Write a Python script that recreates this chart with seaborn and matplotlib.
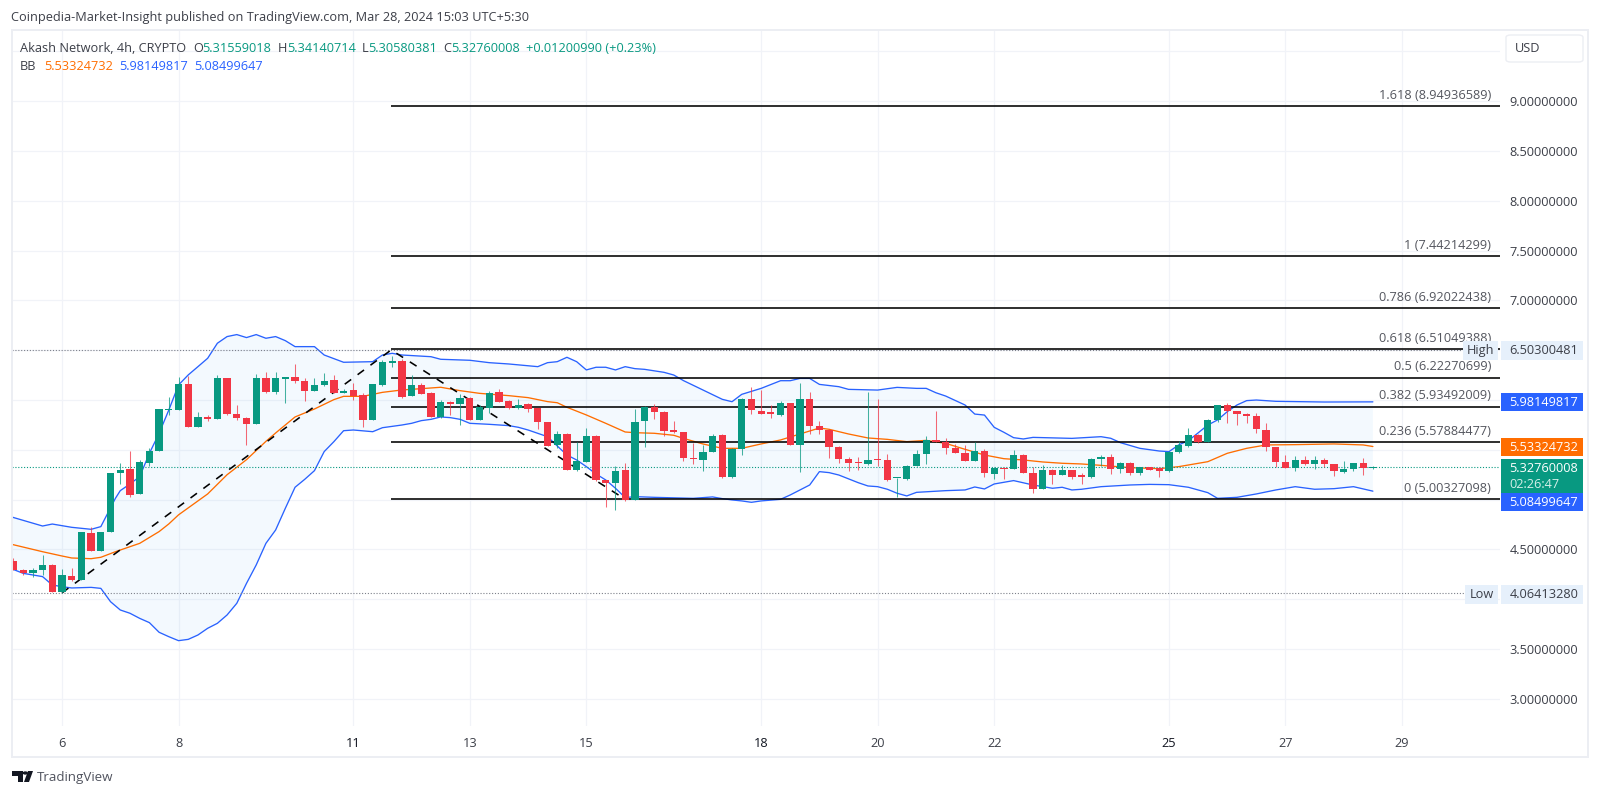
import numpy as np
import pandas as pd
import seaborn as sns
from matplotlib import pyplot as plt
from matplotlib.patches import Rectangle, FancyBboxPatch, Polygon

# Candles, one per 4h bar, index 0 is the bar on the "6" tick
opens = [4.387, 4.297, 4.260, 4.294, 4.344, 4.073, 4.233, 4.193, 4.669, 4.485, 4.672, 5.268, 5.308, 5.054, 5.371, 5.485,
         5.900, 5.903, 6.165, 5.726, 5.830, 5.806, 6.218, 5.860, 5.820, 5.763, 6.218, 6.081, 6.215, 6.228, 6.191, 6.091,
         6.155, 6.198, 6.074, 6.101, 6.047, 5.800, 6.151, 6.372, 6.396, 6.037, 6.148, 6.067, 5.826, 5.980, 5.960, 6.024,
         5.800, 5.923, 6.084, 5.990, 5.923, 5.957, 5.917, 5.776, 5.548, 5.659, 5.298, 5.381, 5.642, 5.194, 5.170, 5.294,
         5.000, 5.790, 5.933, 5.880, 5.699, 5.676, 5.415, 5.398, 5.482, 5.649, 5.224, 5.509, 6.014, 5.887, 5.867, 5.850,
         5.967, 5.552, 6.014, 5.739, 5.703, 5.525, 5.405, 5.368, 5.354, 5.398, 5.394, 5.217, 5.204, 5.338, 5.455, 5.599,
         5.582, 5.518, 5.472, 5.391, 5.492, 5.261, 5.321, 5.304, 5.445, 5.268, 5.110, 5.294, 5.247, 5.298, 5.234, 5.224,
         5.408, 5.428, 5.304, 5.365, 5.264, 5.324, 5.318, 5.284, 5.478, 5.539, 5.649, 5.579, 5.796, 5.950, 5.890, 5.857,
         5.836, 5.703, 5.525, 5.375, 5.321, 5.398, 5.358, 5.398, 5.355, 5.277, 5.304, 5.371, 5.316]
highs = [4.411, 4.304, 4.310, 4.441, 4.351, 4.304, 4.310, 4.672, 4.722, 4.679, 5.271, 5.365, 5.488, 5.398, 5.515, 5.910,
         6.028, 6.235, 6.242, 5.884, 5.850, 6.252, 6.218, 5.954, 5.830, 6.262, 6.282, 6.282, 6.228, 6.362, 6.218, 6.218,
         6.275, 6.248, 6.111, 6.168, 6.067, 6.158, 6.402, 6.442, 6.409, 6.251, 6.168, 6.081, 6.000, 5.990, 6.057, 6.030,
         5.950, 6.094, 6.108, 6.000, 6.007, 5.967, 5.923, 5.780, 5.689, 5.666, 5.582, 5.722, 5.652, 5.197, 5.341, 5.365,
         5.910, 5.940, 5.960, 5.885, 5.790, 5.680, 5.572, 5.548, 5.660, 5.660, 5.520, 6.020, 6.127, 6.100, 5.950, 5.987,
         5.970, 6.168, 6.077, 5.793, 5.710, 5.539, 5.431, 5.431, 6.083, 6.009, 5.455, 5.221, 5.350, 5.498, 5.639, 5.890,
         5.616, 5.555, 5.545, 5.582, 5.505, 5.325, 5.331, 5.498, 5.455, 5.325, 5.348, 5.304, 5.345, 5.300, 5.264, 5.420,
         5.448, 5.458, 5.381, 5.375, 5.330, 5.331, 5.331, 5.488, 5.592, 5.716, 5.659, 5.805, 5.955, 5.967, 5.893, 5.873,
         5.873, 5.773, 5.530, 5.448, 5.438, 5.438, 5.438, 5.415, 5.360, 5.391, 5.370, 5.415, 5.341]
lows = [4.294, 4.244, 4.227, 4.244, 4.073, 4.060, 4.186, 4.193, 4.485, 4.485, 4.672, 5.157, 5.030, 5.054, 5.338, 5.485,
        5.850, 5.903, 5.730, 5.726, 5.790, 5.806, 5.853, 5.800, 5.549, 5.763, 6.074, 6.061, 5.974, 6.168, 5.991, 6.091,
        6.141, 6.067, 6.074, 6.001, 5.733, 5.800, 6.144, 6.335, 6.020, 6.037, 6.064, 5.833, 5.816, 5.850, 5.749, 5.800,
        5.800, 5.866, 5.984, 5.913, 5.906, 5.883, 5.709, 5.535, 5.515, 5.295, 5.288, 5.381, 5.190, 4.930, 4.896, 4.990,
        5.000, 5.525, 5.806, 5.639, 5.666, 5.391, 5.355, 5.291, 5.475, 5.220, 5.220, 5.448, 5.860, 5.860, 5.816, 5.843,
        5.550, 5.281, 5.659, 5.659, 5.415, 5.365, 5.288, 5.298, 5.348, 5.338, 5.190, 5.023, 5.197, 5.338, 5.354, 5.575,
        5.458, 5.472, 5.385, 5.391, 5.231, 5.204, 5.211, 5.304, 5.268, 5.070, 5.110, 5.157, 5.247, 5.207, 5.157, 5.220,
        5.338, 5.257, 5.264, 5.251, 5.247, 5.298, 5.231, 5.280, 5.465, 5.525, 5.572, 5.575, 5.783, 5.773, 5.746, 5.766,
        5.666, 5.489, 5.331, 5.321, 5.288, 5.348, 5.304, 5.324, 5.237, 5.271, 5.291, 5.248, 5.306]
closes = [4.294, 4.260, 4.297, 4.344, 4.073, 4.244, 4.193, 4.672, 4.485, 4.679, 5.271, 5.298, 5.047, 5.378, 5.492, 5.910,
          5.907, 6.165, 5.730, 5.830, 5.806, 6.218, 5.860, 5.816, 5.763, 6.218, 6.081, 6.218, 6.228, 6.188, 6.091, 6.155,
          6.191, 6.071, 6.094, 6.037, 5.800, 6.158, 6.379, 6.395, 6.027, 6.148, 6.064, 5.833, 5.980, 5.963, 6.017, 5.800,
          5.927, 6.074, 5.984, 5.923, 5.950, 5.906, 5.776, 5.542, 5.659, 5.298, 5.388, 5.642, 5.197, 5.170, 5.287, 5.000,
          5.783, 5.933, 5.880, 5.693, 5.676, 5.415, 5.405, 5.482, 5.642, 5.224, 5.509, 6.014, 5.900, 5.860, 5.863, 5.970,
          5.552, 6.014, 5.739, 5.703, 5.525, 5.405, 5.365, 5.365, 5.394, 5.394, 5.197, 5.221, 5.341, 5.458, 5.599, 5.575,
          5.518, 5.472, 5.391, 5.492, 5.264, 5.321, 5.304, 5.445, 5.271, 5.110, 5.294, 5.247, 5.294, 5.224, 5.231, 5.411,
          5.428, 5.311, 5.368, 5.271, 5.324, 5.301, 5.288, 5.482, 5.545, 5.649, 5.582, 5.800, 5.950, 5.893, 5.857, 5.836,
          5.706, 5.528, 5.375, 5.321, 5.398, 5.358, 5.398, 5.358, 5.291, 5.304, 5.364, 5.315, 5.3276]
first_bar = -5

# Bollinger bands, read at their bends
upper_idx = [-5.3, -2, -1, 1, 3, 4, 5.5, 6, 7, 8, 9, 10, 11, 12, 13, 14, 15, 16, 17, 18, 19, 20, 21, 22, 23, 24, 26, 27, 29,
             32, 33, 34, 35, 38, 39, 42, 44, 46, 49, 50, 51, 52, 53, 54, 55, 56, 57, 58, 59, 60, 62, 63, 64, 66, 68, 69, 70,
             72, 74, 75, 76, 77, 78, 80, 81, 84, 86, 88, 89, 90, 91, 93, 94, 95, 96, 97, 98, 99, 100, 104, 107, 108, 109,
             111, 113, 114, 115, 116, 117, 118, 119, 120, 121, 122, 123, 125, 130, 135]
upper_val = [4.829, 4.735, 4.755, 4.722, 4.702, 4.729, 5.013, 5.090, 5.157, 5.231, 5.465, 5.666, 5.900, 6.151, 6.252, 6.335,
             6.419, 6.570, 6.637, 6.657, 6.627, 6.657, 6.620, 6.637, 6.596, 6.536, 6.536, 6.452, 6.379, 6.385, 6.452, 6.469,
             6.452, 6.435, 6.409, 6.399, 6.375, 6.362, 6.335, 6.375, 6.385, 6.429, 6.385, 6.302, 6.329, 6.329, 6.302, 6.335,
             6.315, 6.308, 6.278, 6.251, 6.195, 6.101, 6.007, 5.983, 6.057, 6.117, 6.194, 6.194, 6.217, 6.217, 6.157, 6.134,
             6.107, 6.100, 6.127, 6.117, 6.117, 6.073, 6.040, 5.950, 5.859, 5.849, 5.726, 5.676, 5.622, 5.609, 5.625, 5.615,
             5.632, 5.616, 5.572, 5.515, 5.488, 5.482, 5.549, 5.592, 5.670, 5.749, 5.800, 5.883, 5.950, 5.994, 6.000, 5.987,
             5.980, 5.9815]
lower_idx = [-5.3, -4, -2, -1, 0, 1, 3, 4, 5, 6, 7, 8, 9, 10, 11, 12, 13, 14, 15, 16, 17, 18, 19, 20, 21, 22, 23, 24, 25, 26,
             27, 28, 29, 30, 32, 33, 35, 36, 37, 38, 39, 40, 41, 42, 44, 46, 47, 48, 50, 51, 52, 53, 54, 55, 56, 57, 58, 59,
             61, 65, 67, 68, 69, 70, 71, 72, 74, 75, 76, 77, 78, 79, 80, 82, 83, 84, 85, 86, 87, 88, 91, 93, 94, 95, 96, 98,
             100, 102, 103, 104, 105, 107, 110, 112, 114, 116, 118, 119, 121, 123, 125, 127, 129, 131, 133, 135]
lower_val = [4.310, 4.260, 4.227, 4.143, 4.126, 4.113, 4.119, 4.109, 3.975, 3.892, 3.859, 3.808, 3.765, 3.668, 3.624, 3.584,
             3.597, 3.641, 3.708, 3.758, 3.842, 3.959, 4.159, 4.344, 4.561, 4.695, 4.913, 5.124, 5.204, 5.291, 5.482, 5.582,
             5.692, 5.699, 5.682, 5.722, 5.749, 5.766, 5.793, 5.806, 5.830, 5.823, 5.806, 5.766, 5.756, 5.743, 5.726, 5.699,
             5.632, 5.539, 5.448, 5.398, 5.331, 5.257, 5.197, 5.114, 5.020, 5.030, 5.023, 5.013, 5.027, 5.010, 4.997, 4.987,
             4.973, 4.987, 5.003, 5.047, 5.097, 5.147, 5.281, 5.271, 5.247, 5.170, 5.137, 5.130, 5.104, 5.064, 5.037, 5.073,
             5.090, 5.097, 5.127, 5.107, 5.157, 5.191, 5.147, 5.114, 5.124, 5.097, 5.104, 5.130, 5.147, 5.153, 5.150, 5.124,
             5.070, 5.013, 5.023, 5.057, 5.097, 5.130, 5.104, 5.110, 5.130, 5.085]
basis_idx = [-5.3, -2, 0, 1, 3, 4, 5.5, 6, 8, 10, 11, 12, 15, 17, 19, 21, 22, 24, 26, 28, 29, 31, 33, 35, 37, 39, 41, 43, 46,
             48, 50, 51, 52, 54, 56, 58, 59, 61, 63, 64, 66, 68, 70, 72, 74, 76, 78, 79, 81, 83, 85, 87, 89, 91, 93, 95, 97,
             99, 101, 103, 105, 107, 110, 113, 115, 118, 120, 122, 124, 127, 131, 134, 135]
basis_val = [4.554, 4.477, 4.434, 4.414, 4.407, 4.421, 4.477, 4.494, 4.561, 4.679, 4.756, 4.847, 5.057, 5.250, 5.401, 5.585,
             5.669, 5.830, 5.910, 6.004, 6.037, 6.037, 6.077, 6.101, 6.114, 6.128, 6.094, 6.067, 6.044, 6.024, 5.984, 5.973,
             5.927, 5.850, 5.766, 5.679, 5.672, 5.666, 5.646, 5.615, 5.559, 5.515, 5.515, 5.559, 5.599, 5.659, 5.719, 5.706,
             5.659, 5.619, 5.605, 5.582, 5.595, 5.565, 5.505, 5.448, 5.411, 5.398, 5.378, 5.365, 5.358, 5.344, 5.321, 5.311,
             5.331, 5.381, 5.465, 5.515, 5.549, 5.552, 5.559, 5.549, 5.5332]

# Fibonacci retracement
fib_ratio = ['1.618', '1', '0.786', '0.618', '0.5', '0.382', '0.236', '0']
fib_price = [8.94936589, 7.44214299, 6.92022438, 6.51049388, 6.22270699, 5.93492009, 5.57884477, 5.00327098]
swing_idx = [0, 33.9, 58]
swing_price = [4.06413280, 6.50300481, 5.00327098]

price_ticks = [3.0, 3.5, 4.0, 4.5, 5.0, 5.5, 6.0, 6.5, 7.0, 7.5, 8.0, 8.5, 9.0]
# these sit under the coloured price tags in the original
hidden_ticks = [4.0, 5.0, 5.5, 6.0, 6.5]
date_idx = [0, 12, 30, 42, 54, 72, 84, 96, 114, 126, 138]
date_labels = ['6', '8', '11', '13', '15', '18', '20', '22', '25', '27', '29']
bold_dates = ['11', '18', '25']

GREEN = '#089981'
RED = '#f23645'
BLUE = '#2962ff'
ORANGE = '#ff6d00'
TEXT = '#3c3f48'
GRID = '#f1f3f8'
FONT = 'Open Sans'
FS = 9.2

W, H = 1600, 796
sns.set_theme(style='white')
plt.rcParams['font.family'] = [FONT, 'DejaVu Sans']

fig = plt.figure(figsize=(16, 7.96), dpi=100)
ax = fig.add_axes([12 / W, 1 - 726 / H, 1488 / W, 696 / H])


# pixel helpers for everything that lives outside the plot pane
def ftext(x, y, s, color=TEXT, ha='left', size=FS, **kw):
    return fig.text(x / W, 1 - y / H, s, color=color, ha=ha, va='center', fontsize=size, zorder=8, **kw)


def fbox(x0, y0, x1, y1, color):
    fig.add_artist(Rectangle((x0 / W, 1 - y1 / H), (x1 - x0) / W, (y1 - y0) / H, transform=fig.transFigure,
                             facecolor=color, edgecolor='none', zorder=7))


# frame around the whole widget
fig.add_artist(Rectangle((11.5 / W, 1 - 757 / H), 1576.5 / W, 727.5 / H, transform=fig.transFigure,
                         facecolor='none', edgecolor='#eceef3', lw=1.4, zorder=6))

# grid
ax.set_xlim(-5.149, 148.09)
ax.set_ylim(2.7272, 9.715)
ax.hlines(price_ticks + [9.5], -5.149, 148.09, color=GRID, lw=0.9, zorder=0)
ax.vlines(date_idx, 2.7272, 9.715, color=GRID, lw=0.9, zorder=0)

# bands
ax.fill(list(upper_idx) + list(lower_idx)[::-1], list(upper_val) + list(lower_val)[::-1],
        color='#2196f3', alpha=0.05, lw=0, zorder=1)
sns.lineplot(x=upper_idx, y=upper_val, color=BLUE, lw=0.95, sort=False, estimator=None, ax=ax, zorder=2)
sns.lineplot(x=lower_idx, y=lower_val, color=BLUE, lw=0.95, sort=False, estimator=None, ax=ax, zorder=2)
sns.lineplot(x=basis_idx, y=basis_val, color=ORANGE, lw=0.95, sort=False, estimator=None, ax=ax, zorder=2)

# High / Low / last price dotted lines
ax.hlines(swing_price[1], -5.149, 144.2, color='#7d808a', lw=0.8, linestyles=(0, (1, 1.6)), zorder=2)
ax.hlines(swing_price[0], -5.149, 144.4, color='#7d808a', lw=0.8, linestyles=(0, (1, 1.6)), zorder=2)
ax.hlines(closes[-1], -5.149, 148.09, color=GREEN, lw=0.8, linestyles=(0, (1, 1.6)), zorder=2)

# fib levels and zig-zag
ax.hlines(fib_price, swing_idx[1], 148.09, color='black', lw=1.15, zorder=3)
ax.plot(swing_idx, swing_price, color='black', lw=1.15, dashes=(5, 5), zorder=3)
for ratio, price in zip(fib_ratio, fib_price):
    ax.annotate(f'{ratio} ({price:.8f})', (147.2, price), xytext=(0, 3.2), textcoords='offset points',
                ha='right', va='bottom', fontsize=FS, color='#54565e', zorder=4)

# candles
df = pd.DataFrame({'open': opens, 'high': highs, 'low': lows, 'close': closes})
df['idx'] = np.arange(len(df)) + first_bar
df['colour'] = np.where(df['close'] >= df['open'], GREEN, RED)
ax.vlines(df['idx'], df['low'], df['high'], colors=df['colour'], lw=0.75, alpha=0.75, zorder=5)
ax.bar(df['idx'], (df['close'] - df['open']).abs().clip(lower=0.012), bottom=df[['open', 'close']].min(axis=1),
       width=0.75, color=df['colour'], lw=0, zorder=6)

# axes dressing
sns.despine(ax=ax, left=True, bottom=True, right=True, top=True)
ax.yaxis.tick_right()
ax.set_yticks(price_ticks)
ax.set_yticklabels(['' if t in hidden_ticks else f'{t:.8f}' for t in price_ticks], fontsize=FS, color=TEXT)
ax.set_xticks(date_idx)
ax.set_xticklabels(date_labels, fontsize=FS, color=TEXT)
for lab in ax.get_xticklabels():
    if lab.get_text() in bold_dates:
        lab.set_color('#131722')
ax.tick_params(axis='y', length=0, pad=7)
ax.tick_params(axis='x', length=0, pad=8)
ax.set_xlabel('')
ax.set_ylabel('')

# price tags on the scale
fbox(1463, 341, 1498, 360, '#e6f0fb')
ftext(1480.5, 350.5, 'High', ha='center')
fbox(1501, 341, 1583, 360, '#e6f0fb')
ftext(1509.5, 350.5, '6.50300481')
fbox(1465, 585, 1498, 604, '#e6f0fb')
ftext(1481.5, 594.5, 'Low', ha='center')
fbox(1501, 585, 1583, 604, '#e6f0fb')
ftext(1509.5, 594.5, '4.06413280')
fbox(1501, 393, 1583, 411, BLUE)
ftext(1509.5, 402, '5.98149817', color='white')
fbox(1501, 438, 1583, 456, ORANGE)
ftext(1509.5, 447.5, '5.53324732', color='white')
fbox(1501, 459, 1583, 493, GREEN)
ftext(1509.5, 468, '5.32760008', color='white')
ftext(1509.5, 484, '02:26:47', color='#d5efe9')
fbox(1501, 493, 1583, 511, BLUE)
ftext(1509.5, 502, '5.08499647', color='white')

# USD button
fig.add_artist(FancyBboxPatch((1506 / W, 1 - 62 / H), 77 / W, 27 / H, transform=fig.transFigure,
                              boxstyle='round,pad=0,rounding_size=0.003', facecolor='white',
                              edgecolor='#eceef3', lw=1.0, zorder=7))
ftext(1515, 48, 'USD')

# header texts
ftext(11, 17, 'Coinpedia-Market-Insight published on TradingView.com, Mar 28, 2024 15:03 UTC+5:30')
ftext(20, 48.5, 'Akash Network, 4h, CRYPTO')
for x, key, gap, val in [(193, 'O', 9, '5.31559018'), (278, 'H', 9, '5.34140714'),
                         (362, 'L', 6.5, '5.30580381'), (443, 'C', 8.5, '5.32760008')]:
    ftext(x, 48.5, key)
    ftext(x + gap, 48.5, val, color=GREEN)
ftext(526, 48.5, '+0.01200990 (+0.23%)', color=GREEN)
ftext(20, 66.5, 'BB')
ftext(44, 66.5, '5.53324732', color=ORANGE)
ftext(119, 66.5, '5.98149817', color=BLUE)
ftext(194, 66.5, '5.08499647', color=BLUE)

# TradingView logo
logo_t = [(12, 771), (23, 771), (23, 782), (18, 782), (18, 776), (12, 776)]
logo_v = [(28, 771), (33, 771), (29, 782), (24, 782)]
for shape in (logo_t, logo_v):
    fig.add_artist(Polygon([(x / W, 1 - y / H) for x, y in shape], transform=fig.transFigure,
                           facecolor='#131722', edgecolor='none', zorder=7))
fig.add_artist(plt.Circle((25.3 / W, 1 - 773 / H), 0.0012, transform=fig.transFigure, color='#131722', zorder=7))
ftext(37, 777, 'TradingView', color='#50535e', size=9.6)

fig.savefig('out.png', dpi=100, facecolor='white')
